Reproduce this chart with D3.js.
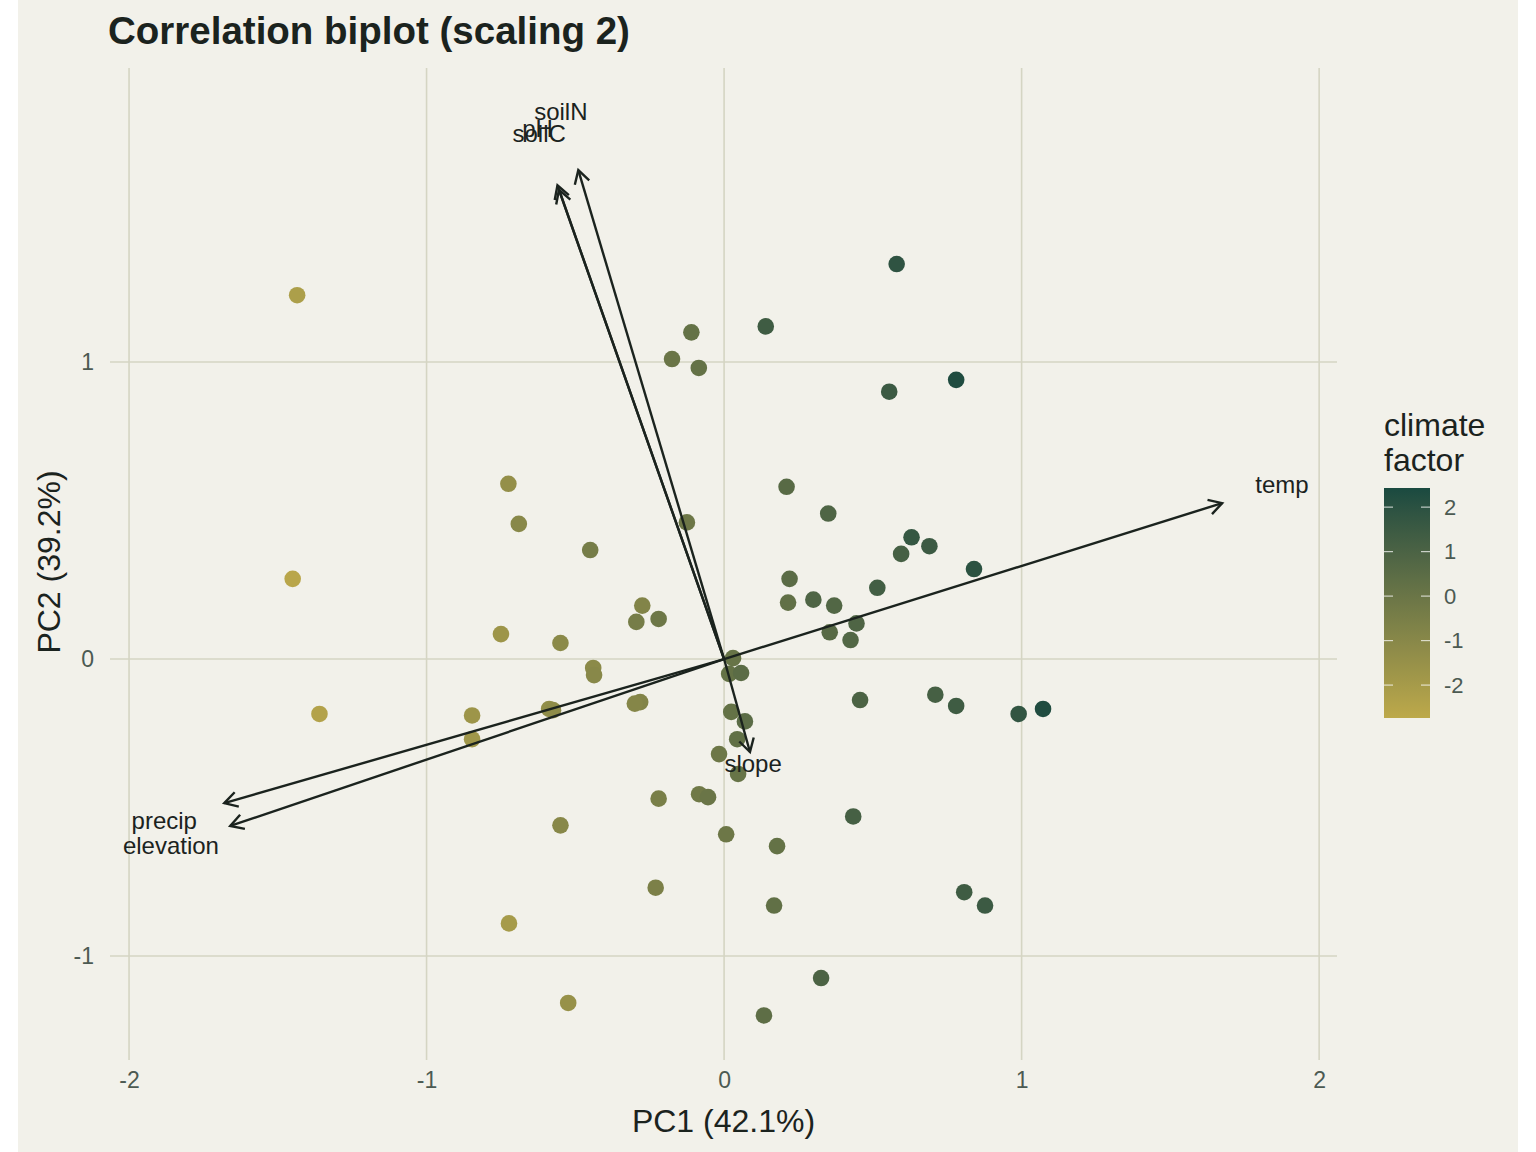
<!DOCTYPE html>
<html>
<head>
<meta charset="utf-8">
<script src="https://cdn.jsdelivr.net/npm/d3@7"></script>
<style>
  body { margin: 0; background: #ffffff; }
  text { font-family: "Liberation Sans", Arial, Helvetica, sans-serif; }
</style>
</head>
<body>
<svg id="chart" width="1536" height="1152"></svg>
<script>
// site scores (PC1, PC2) and climate factor
var pc1 = [0.58, 0.14, -0.11, -0.175, -0.085, 0.555, 0.78, -1.435, 0.21, 0.35,
  -0.125, -0.725, -0.69, -0.45, 0.63, 0.69, 0.595, 0.84, -1.45, 0.22,
  0.515, 0.215, 0.30, 0.37, 0.445, 0.355, 0.425, -0.275, -0.295, -0.22,
  -0.75, -0.55, -0.44, -0.437, 0.03, 0.017, 0.057, -1.36, -0.847, -0.847,
  -0.588, -0.575, -0.282, -0.30, 0.024, 0.07, 0.044, -0.017, 0.047, 0.71,
  0.78, 0.457, 0.99, 1.072, -0.22, -0.084, -0.054, -0.55, 0.007, 0.178,
  0.434, -0.23, 0.168, 0.807, 0.877, -0.723, 0.326, -0.524, 0.134]
var pc2 = [1.33, 1.12, 1.10, 1.01, 0.98, 0.90, 0.94, 1.225, 0.58, 0.49,
  0.46, 0.59, 0.455, 0.367, 0.41, 0.38, 0.354, 0.303, 0.27, 0.27,
  0.24, 0.19, 0.20, 0.18, 0.12, 0.09, 0.064, 0.18, 0.125, 0.135,
  0.084, 0.054, -0.03, -0.054, 0.003, -0.05, -0.047, -0.185, -0.19, -0.27,
  -0.168, -0.172, -0.145, -0.15, -0.178, -0.21, -0.27, -0.32, -0.387, -0.12,
  -0.158, -0.138, -0.185, -0.168, -0.47, -0.455, -0.465, -0.56, -0.59, -0.63,
  -0.53, -0.77, -0.83, -0.785, -0.83, -0.89, -1.074, -1.158, -1.2]
var climate = [1.9, 1.4, 0.2, 0.0, 0.2, 1.5, 2.3, -2.2, 0.6, 0.9,
  -0.1, -1.4, -1.0, -0.4, 1.7, 1.5, 1.2, 2.0, -2.6, 0.5,
  1.3, 0.3, 0.9, 0.8, 0.9, 0.6, 0.8, -0.8, -0.4, -0.1,
  -1.7, -1.1, -1.1, -1.0, 0.1, 0.2, 0.5, -2.4, -1.7, -1.8,
  -1.3, -1.2, -0.8, -0.9, 0.2, 0.5, 0.3, -0.1, 0.1, 1.2,
  1.4, 1.0, 1.8, 2.3, -0.5, -0.2, 0.0, -1.0, -0.1, 0.2,
  1.2, -0.6, 0.3, 1.4, 1.5, -2.0, 1.0, -1.5, 0.4]

// variable loadings
var vars = ["temp", "soilN", "pH", "soilC", "precip", "elevation", "slope"]
var load1 = [1.674, -0.49, -0.56, -0.555, -1.68, -1.66, 0.087]
var load2 = [0.525, 1.646, 1.595, 1.58, -0.485, -0.562, -0.313]

var xTicks = [-2, -1, 0, 1, 2]
var yTicks = [-1, 0, 1]
var legendTicks = [-2, -1, 0, 1, 2]

var svg = d3.select("#chart")
var bg = "#F2F1EA", gridCol = "#D5D5C3", ink = "#1B231E", tickCol = "#4C5A52"

svg.append("rect").attr("x", 18).attr("y", 0).attr("width", 1500).attr("height", 1152).attr("fill", bg)

var panel = {left: 110, right: 1337, top: 68, bottom: 1060}
var xScale = d3.scaleLinear().domain([-2.064, 2.06]).range([panel.left, panel.right])
var yScale = d3.scaleLinear().domain([-1.35, 1.99]).range([panel.bottom, panel.top])
var cDomain = [-2.74, 2.43]
var colour = d3.scaleLinear().domain(cDomain).range(["#BDA94A", "#1A4A40"]).interpolate(d3.interpolateLab)

// grid
var grid = svg.append("g")
grid.selectAll(".vg").data(xTicks).enter().append("line")
  .attr("x1", d => xScale(d)).attr("x2", d => xScale(d))
  .attr("y1", panel.top).attr("y2", panel.bottom)
  .attr("stroke", gridCol).attr("stroke-width", 1.6)
grid.selectAll(".hg").data(yTicks).enter().append("line")
  .attr("y1", d => yScale(d)).attr("y2", d => yScale(d))
  .attr("x1", panel.left).attr("x2", panel.right)
  .attr("stroke", gridCol).attr("stroke-width", 1.6)

// axes (ticks only as text, ggplot minimal style)
var xAxis = d3.axisBottom(xScale).tickValues(xTicks).tickSize(0).tickPadding(12).tickFormat(d => String(d))
var gx = svg.append("g").attr("transform", "translate(0," + panel.bottom + ")").call(xAxis)
gx.select(".domain").remove()
gx.selectAll("text").attr("font-size", 23).attr("fill", tickCol).attr("font-family", "Liberation Sans, Arial, sans-serif")

var yAxis = d3.axisLeft(yScale).tickValues(yTicks).tickSize(0).tickPadding(16).tickFormat(d => String(d))
var gy = svg.append("g").attr("transform", "translate(" + panel.left + ",0)").call(yAxis)
gy.select(".domain").remove()
gy.selectAll("text").attr("font-size", 23).attr("fill", tickCol).attr("font-family", "Liberation Sans, Arial, sans-serif")

// points
var sites = pc1.map((d, i) => [d, pc2[i], climate[i]])
svg.append("g").selectAll("circle").data(sites).enter().append("circle")
  .attr("cx", d => xScale(d[0])).attr("cy", d => yScale(d[1]))
  .attr("r", 8.3).attr("fill", d => colour(d[2]))

// arrows
var arrows = vars.map((v, i) => ({name: v, x: load1[i], y: load2[i]}))
var ag = svg.append("g")
arrows.forEach(a => {
  var x0 = xScale(0), y0 = yScale(0), x1 = xScale(a.x), y1 = yScale(a.y)
  var ang = Math.atan2(y1 - y0, x1 - x0), len = 15, spread = Math.PI / 6
  ag.append("line").attr("x1", x0).attr("y1", y0).attr("x2", x1).attr("y2", y1)
    .attr("stroke", ink).attr("stroke-width", 2.4)
  var p = [[x1 - len * Math.cos(ang - spread), y1 - len * Math.sin(ang - spread)], [x1, y1],
    [x1 - len * Math.cos(ang + spread), y1 - len * Math.sin(ang + spread)]]
  ag.append("path").attr("d", d3.line()(p)).attr("fill", "none")
    .attr("stroke", ink).attr("stroke-width", 2.4)
})
svg.append("g").selectAll("text").data(arrows).enter().append("text")
  .attr("x", d => xScale(d.x * 1.12)).attr("y", d => yScale(d.y * 1.12))
  .attr("dy", "0.35em").attr("text-anchor", "middle")
  .attr("font-size", 24).attr("fill", ink).text(d => d.name)

// titles
svg.append("text").attr("x", 108).attr("y", 44).attr("font-size", 38.5).attr("font-weight", "bold")
  .attr("fill", ink).text("Correlation biplot (scaling 2)")
svg.append("text").attr("x", (panel.left + panel.right) / 2).attr("y", 1132).attr("text-anchor", "middle")
  .attr("font-size", 32).attr("fill", ink).text("PC1 (42.1%)")
svg.append("text").attr("transform", "translate(60," + 562 + ") rotate(-90)")
  .attr("text-anchor", "middle").attr("font-size", 32).attr("fill", ink).text("PC2 (39.2%)")

// legend colourbar
var leg = {x: 1384, w: 46, top: 488, bottom: 718}
var lScale = d3.scaleLinear().domain(cDomain).range([leg.bottom, leg.top])
var defs = svg.append("defs")
var grad = defs.append("linearGradient").attr("id", "cbar").attr("x1", 0).attr("x2", 0).attr("y1", 1).attr("y2", 0)
d3.range(0, 1.0001, 0.1).forEach(t => {
  grad.append("stop").attr("offset", t).attr("stop-color", colour(cDomain[0] + t * (cDomain[1] - cDomain[0])))
})
svg.append("rect").attr("x", leg.x).attr("y", leg.top).attr("width", leg.w).attr("height", leg.bottom - leg.top)
  .attr("fill", "url(#cbar)")
var lt = svg.append("g")
legendTicks.forEach(t => {
  lt.append("line").attr("x1", leg.x).attr("x2", leg.x + 9).attr("y1", lScale(t)).attr("y2", lScale(t))
    .attr("stroke", "#ffffff").attr("stroke-opacity", 0.7).attr("stroke-width", 1.2)
  lt.append("line").attr("x1", leg.x + leg.w - 9).attr("x2", leg.x + leg.w).attr("y1", lScale(t)).attr("y2", lScale(t))
    .attr("stroke", "#ffffff").attr("stroke-opacity", 0.7).attr("stroke-width", 1.2)
  lt.append("text").attr("x", leg.x + leg.w + 14).attr("y", lScale(t)).attr("dy", "0.35em")
    .attr("font-size", 22).attr("fill", tickCol).text(t)
})
svg.append("text").attr("x", 1384).attr("y", 436).attr("font-size", 32).attr("fill", ink).text("climate")
svg.append("text").attr("x", 1384).attr("y", 471).attr("font-size", 32).attr("fill", ink).text("factor")
</script>
</body>
</html>
